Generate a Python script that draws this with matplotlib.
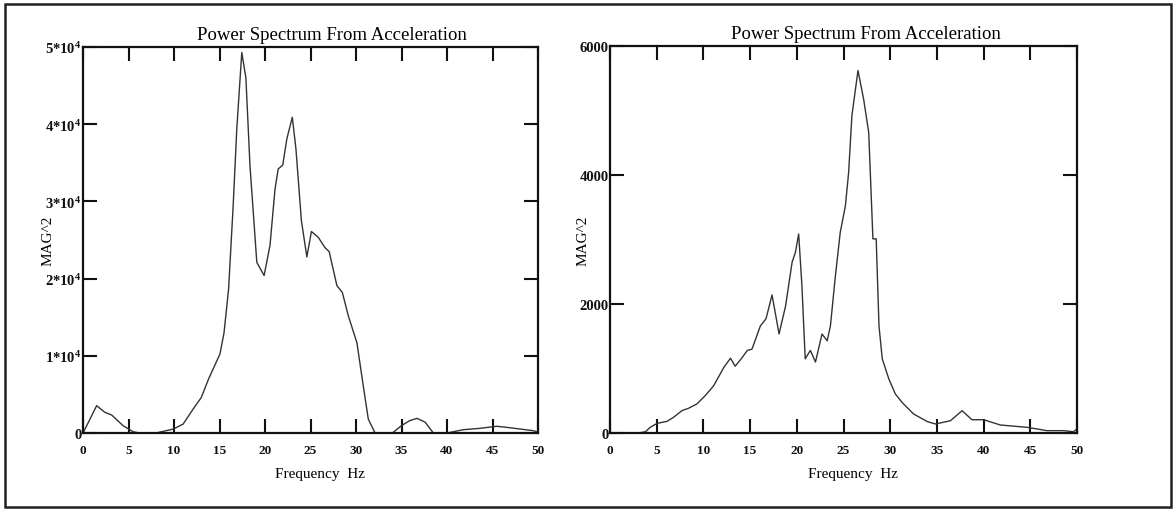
import numpy as np
import matplotlib
matplotlib.use("Agg")
import matplotlib.pyplot as plt
from matplotlib.patches import Rectangle
from matplotlib.ticker import FixedLocator, FuncFormatter

plt.rcParams['font.family'] = ['Liberation Serif', 'DejaVu Serif']
plt.rcParams['mathtext.fontset'] = 'custom'
plt.rcParams['mathtext.rm'] = 'Liberation Serif'
plt.rcParams['mathtext.bf'] = 'Liberation Serif:bold'
plt.rcParams['mathtext.default'] = 'bf'

# spectrum 1 (left)
freq1 = [0, 0.6, 1.5, 2.4, 3.15, 4.4, 5.5, 6.2, 8, 9.9,
         11, 12.1, 13.0, 13.8, 15.05, 15.5, 16.0, 16.5, 16.9, 17.45,
         17.9, 18.35, 19.1, 19.9, 20.55, 21.1, 21.45, 21.95, 22.4, 23.0,
         23.4, 24.0, 24.6, 25.1, 25.85, 26.6, 27.05, 27.9, 28.5, 29.15,
         30.1, 30.8, 31.35, 32.1, 34.0, 35.0, 35.9, 36.7, 37.6, 38.5,
         40.0, 41.8, 43.6, 45.45, 46.5, 48.0, 49.5, 50.0]
mag1 = [0, 1400, 3540, 2680, 2330, 950, 170, 0, 0, 500,
        1150, 3100, 4600, 7000, 10230, 13000, 18650, 29400, 39400, 49300,
        46000, 34600, 22100, 20400, 24300, 31600, 34200, 34700, 38100, 40900,
        36800, 27500, 22800, 26100, 25350, 24000, 23500, 19100, 18200, 15200,
        11700, 6100, 1800, 0, 0, 950, 1600, 1900, 1400, 0,
        0, 430, 600, 870, 740, 520, 300, 100]

# spectrum 2 (right)
freq2 = [0, 3.07, 3.8, 4.3, 5.05, 6.1, 6.8, 7.7, 8.4, 9.3,
         10.2, 11.1, 12.2, 12.9, 13.4, 14.1, 14.7, 15.2, 16.1, 16.7,
         17.35, 18.1, 18.8, 19.5, 19.85, 20.2, 20.55, 20.9, 21.45, 22.0,
         22.7, 23.25, 23.6, 24.1, 24.65, 25.2, 25.55, 25.9, 26.55, 27.15,
         27.7, 28.15, 28.5, 28.8, 29.15, 29.85, 30.55, 31.3, 32.5, 34.0,
         34.85, 36.45, 37.7, 38.75, 40.0, 41.8, 44.65, 46.8, 48.6, 49.6,
         50.0]
mag2 = [0, 0, 20, 88, 150, 180, 243, 346, 383, 450,
        580, 733, 1020, 1160, 1035, 1160, 1280, 1300, 1660, 1770,
        2140, 1535, 1970, 2650, 2800, 3085, 2280, 1150, 1280, 1100,
        1535, 1430, 1660, 2390, 3110, 3520, 4040, 4920, 5620, 5180,
        4660, 3010, 3010, 1660, 1150, 840, 605, 470, 295, 175,
        140, 190, 346, 206, 206, 124, 88, 36, 36, 20,
        60]

xticks = [0, 5, 10, 15, 20, 25, 30, 35, 40, 45, 50]
yticks1 = [0, 1e4, 2e4, 3e4, 4e4, 5e4]
yticks2 = [0, 2000, 4000, 6000]

title = "Power Spectrum From Acceleration"

W, H = 1174, 510
fig = plt.figure(figsize=(W / 100, H / 100), dpi=100)

# outer frame
fig.patches.append(Rectangle((5 / W, 2 / H), 1166 / W, 503 / H,
                             transform=fig.transFigure, fill=False,
                             edgecolor='#222222', linewidth=1.8))

ax1 = fig.add_axes([83 / W, 76 / H, 455 / W, 386 / H])
ax2 = fig.add_axes([610 / W, 76 / H, 467 / W, 387 / H])


def sci_fmt(v, pos):
    if v == 0:
        return '0'
    return '%g*10$^4$' % (v / 1e4)


for ax, f, m, yt, ymax, ylx in [(ax1, freq1, mag1, yticks1, 5e4, -0.077),
                                 (ax2, freq2, mag2, yticks2, 6000, -0.058)]:
    ax.plot(f, m, color='#333333', linewidth=1.0)
    ax.set_xlim(0, 50)
    ax.set_ylim(0, ymax)
    ax.xaxis.set_major_locator(FixedLocator(xticks))
    ax.yaxis.set_major_locator(FixedLocator(yt))
    ax.tick_params(direction='in', length=10, width=1.5, top=True,
                   right=True, colors='#111111')
    ax.tick_params(axis='x', labelsize=9.5, pad=8)
    ax.tick_params(axis='y', labelsize=10.5, pad=1)
    for lab in ax.get_xticklabels() + ax.get_yticklabels():
        lab.set_fontweight('bold')
    for sp in ax.spines.values():
        sp.set_linewidth(1.6)
        sp.set_color('#111111')
    ax.set_title(title, fontsize=13.5, pad=6, x=0.548)
    ax.set_xlabel("Frequency  Hz", fontsize=11)
    ax.xaxis.set_label_coords(0.52, -0.088)
    ax.text(ylx, 0.50, "MAG^2", transform=ax.transAxes, rotation=90,
            ha='center', va='center', fontsize=11)

ax1.yaxis.set_major_formatter(FuncFormatter(sci_fmt))

fig.savefig("out.png", dpi=100)
